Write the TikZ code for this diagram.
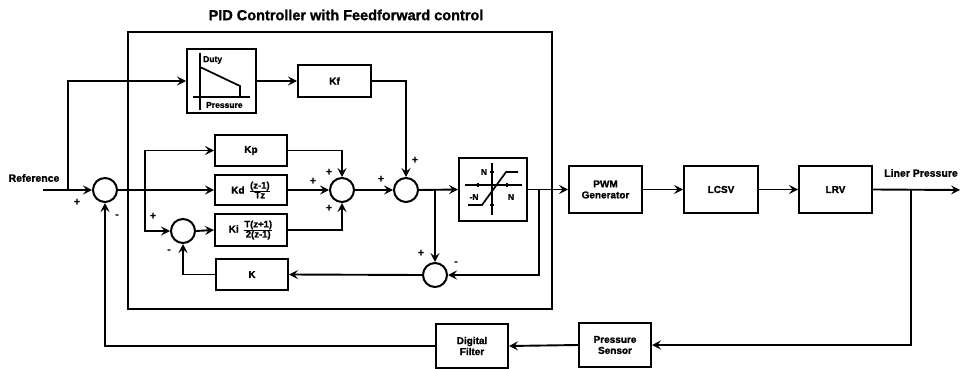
\documentclass[tikz,border=0pt]{standalone}
\usepackage{fontspec}
\setmainfont{Liberation Sans}[BoldFeatures={FakeBold=1.2}]
\usetikzlibrary{arrows.meta}
\begin{document}
\begin{tikzpicture}[x=1pt,y=-1pt,
  lw/.style={line width=1.7pt},
  blk/.style={draw,line width=2pt,rectangle,inner sep=0pt,align=center,font=\bfseries\fontsize{10}{11}\selectfont},
  sumj/.style={draw,line width=2pt,circle,minimum size=24pt,inner sep=0pt},
  conn/.style={line width=1.9pt,-{Stealth[length=9pt,width=9pt,inset=3.5pt]}},
  sgn/.style={font=\bfseries\fontsize{10.5}{10}\selectfont,inner sep=0pt},
  lbl/.style={font=\bfseries\fontsize{10.5}{11}\selectfont,inner sep=0pt},
  small/.style={font=\bfseries\fontsize{8.5}{9}\selectfont,inner sep=0pt}
]
\useasboundingbox (0,0) rectangle (963,369);

% title and controller frame
\node[draw,line width=1.9pt,minimum width=424pt,minimum height=277pt,inner sep=0pt] (pid) at (340,170.5) {};
\node[lbl,font=\bfseries\fontsize{14.5}{15}\selectfont] (title) at (346,15) {PID Controller with Feedforward control};

% blocks
\node[blk,minimum width=69pt,minimum height=64pt] (duty) at (221.5,81) {};
\node[blk,minimum width=73pt,minimum height=32pt] (kf) at (334.5,81) {Kf};
\node[blk,minimum width=72pt,minimum height=31pt] (kp) at (251,150.5) {Kp};
\node[blk,minimum width=72pt,minimum height=30pt] (kd) at (251,190) {Kd\, $\frac{\hbox{\bfseries\fontsize{9.5}{9}\selectfont (z-1)}}{\hbox{\bfseries\fontsize{9.5}{9}\selectfont Tz}}$};
\node[blk,minimum width=72pt,minimum height=32pt] (ki) at (251,230) {Ki\, $\frac{\hbox{\bfseries\fontsize{9.5}{9}\selectfont T(z+1)}}{\hbox{\bfseries\fontsize{9.5}{9}\selectfont 2(z-1)}}$};
\node[blk,minimum width=72pt,minimum height=31pt] (kk) at (252,274.5) {K};
\node[blk,minimum width=68pt,minimum height=63pt] (sat) at (493,189.5) {};
\node[blk,minimum width=73pt,minimum height=47pt] (pwm) at (605.5,189.5) {PWM\\Generator};
\node[blk,minimum width=74pt,minimum height=47pt] (lcsv) at (721,189.5) {LCSV};
\node[blk,minimum width=73pt,minimum height=47pt] (lrv) at (835.5,189.5) {LRV};
\node[blk,minimum width=72pt,minimum height=44pt] (ps) at (615,345) {Pressure\\Sensor};
\node[blk,minimum width=72pt,minimum height=44pt] (df) at (472,346) {Digital\\Filter};

% summing junctions
\node[sumj] (s0) at (105,190) {};
\node[sumj] (si) at (183,231) {};
\node[sumj] (s1) at (342,190) {};
\node[sumj] (s2) at (406,190) {};
\node[sumj] (s3) at (435,275) {};

% duty curve
\draw[lw] (200,53) -- (200,110);
\draw[lw] (193,97) -- (250,97);
\draw[lw] (200,67) -- (240,86) -- (240,97);
\node[small,anchor=west] (dutyt) at (203,60) {Duty};
\node[small,anchor=west] (prest) at (206,105) {Pressure};

% saturation curve
\draw[lw] (465,185) -- (522,185);
\draw[lw] (492,163) -- (492,215);
\draw[lw] (468,205) -- (482,205) -- (506,172) -- (518,172);
\foreach \xx in {478,507} \draw[lw] (\xx,183) -- (\xx,187);
\foreach \yy in {172,205} \draw[lw] (490,\yy) -- (494,\yy);
\node[small] (nt) at (484,172) {N};
\node[small] (nl) at (474,197) {-N};
\node[small] (nr) at (511,197) {N};

% input and output labels
\coordinate (refin) at (43,190);
\node[lbl] (reft) at (34,178) {Reference};
\coordinate (out) at (960,190);
\node[lbl] (outt) at (921,173) {Liner Pressure};

% connectors
\coordinate (ffb) at (68,190);
\coordinate (bk) at (145,190);
\coordinate (b2) at (435,190);
\coordinate (b3) at (539,190);
\coordinate (b4) at (911,190);

\draw[conn] (refin) -- (s0.west);
\draw[conn] (ffb) |- (duty.west);
\draw[conn] (duty.east) -- (kf.west);
\draw[conn] (kf.east) -| (s2.north);
\draw[conn] (s0.east) -- (kd.west);
\draw[conn] (bk) |- (kp.west);
\draw[conn] (bk) |- (si.west);
\draw[conn] (si.east) -- (ki.west);
\draw[conn] (kp.east) -| (s1.north);
\draw[conn] (kd.east) -- (s1.west);
\draw[conn] (ki.east) -| (s1.south);
\draw[conn] (s1.east) -- (s2.west);
\draw[conn] (s2.east) -- (sat.west);
\draw[conn] (b2) -- (s3.north);
\draw[conn] (sat.east) -- (pwm.west);
\draw[conn] (b3) |- (s3.east);
\draw[conn] (s3.west) -- (kk.east);
\draw[conn] (kk.west) -| (si.south);
\draw[conn] (pwm.east) -- (lcsv.west);
\draw[conn] (lcsv.east) -- (lrv.west);
\draw[conn] (lrv.east) -- (out);
\draw[conn] (b4) |- (ps.east);
\draw[conn] (ps.west) -- (df.east);
\draw[conn] (df.west) -| (s0.south);

% signs
\node[sgn] (p0) at (77,202) {+};
\node[sgn] (m0) at (117,216) {-};
\node[sgn] (pi) at (153,216) {+};
\node[sgn] (mi) at (169,251) {-};
\node[sgn] (p1a) at (329,172) {+};
\node[sgn] (p1b) at (313,181) {+};
\node[sgn] (p1c) at (329,208) {+};
\node[sgn] (p2a) at (415,160) {+};
\node[sgn] (p2b) at (381,179) {+};
\node[sgn] (p3a) at (421,253) {+};
\node[sgn] (m3) at (456,263) {-};
\end{tikzpicture}
\end{document}
